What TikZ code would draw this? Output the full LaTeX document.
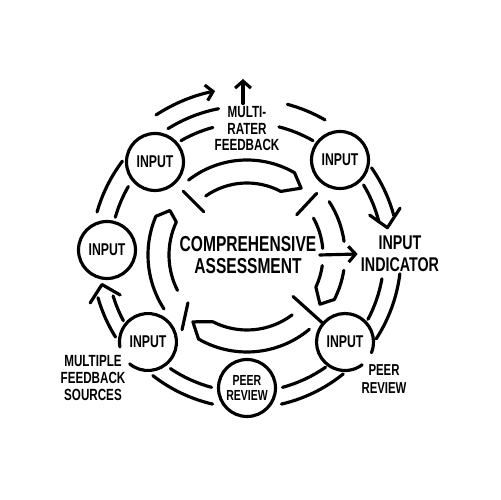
\documentclass[tikz,border=0pt]{standalone}
\usepackage{fontspec}
\setmainfont{Liberation Sans}[FakeStretch=0.72]
\usetikzlibrary{arrows.meta}

\begin{document}
\begin{tikzpicture}[scale=0.02, line width=1.8pt, line cap=round, line join=round,
	>={Straight Barb[length=4pt,width=9pt]},
	inp/.style={circle, draw, minimum size=1.14cm, inner sep=0pt, outer sep=0pt, align=center, font=\bfseries\fontsize{9.7}{10}\selectfont},
	opennode/.style={inp, draw=none},
	lbl/.style={align=center, inner sep=1pt, font=\bfseries\fontsize{9.2}{9.4}\selectfont}]
	\useasboundingbox (-247,-245) rectangle (253,255);
	\node[inp] (tl) at (-92,93) {INPUT};
	\node[inp] (tr) at (93,95) {INPUT};
	\node[inp] (lf) at (-140,5) {INPUT};
	\node[opennode] (bl) at (-99,-87) {INPUT};
	\node[opennode] (br) at (98,-87) {INPUT};
	\node[inp, font=\bfseries\fontsize{8.3}{8.6}\selectfont] (bt) at (0,-133) {PEER\\REVIEW};
	\draw (bl.230) arc(230:550:28.5);
	\draw (br.-22) arc(-22:307:28.5);
	\node[lbl] (mrf) at (0,126) {MULTI-\\RATER\\FEEDBACK};
	\node[lbl, font=\bfseries\fontsize{12.3}{13}\selectfont] (comp) at (1,0) {COMPREHENSIVE\\ASSESSMENT};
	\node[lbl, font=\bfseries\fontsize{11.3}{12.5}\selectfont] (ind) at (153,1) {INPUT\\INDICATOR};
	\node[lbl, font=\bfseries\fontsize{9.2}{9.7}\selectfont] (mfs) at (-154,-123) {MULTIPLE\\FEEDBACK\\SOURCES};
	\node[lbl, font=\bfseries\fontsize{9}{10}\selectfont] (pr) at (137,-124) {PEER\\REVIEW};
	\coordinate (up) at (-4,176);
	\draw[->] (mrf.north -| up) -- (up);
	\draw[->] (comp.east) -- (ind.west);
	% outer rings
	\draw[->] (123:167) arc(123:101:167);
	\draw (122:149) arc(122:101:149);
	\draw (120:132) arc(120:105:132);
	\draw (75:156) arc(75:60:156);
	\draw (76:132) arc(76:60:132);
	\draw (35:152) arc(35:15:152);
	\draw (31:136) arc(31:14:136);
	\draw (18:129) -- (11:143) -- (17:160);
	\draw (-7:154) arc(-7:-33:154);
	\draw (-10:137) arc(-10:-28:137);
	\draw (-51:153) arc(-51:-77:153);
	\draw (-55:137) arc(-55:-75:137);
	\draw (-103:153) arc(-103:-128:153);
	\draw (-105:137) arc(-105:-124:137);
	\draw (212:155) arc(212:196:155);
	\draw (208:140) arc(208:197:140);
	\draw (197:164) -- (191.5:148) -- (197.5:133);
	\draw (164:156) arc(164:143:156);
	\draw (164:137) arc(164:150:137);
	% inner arrows
	\draw (128:95) arc(128:60:95) -- (51:86) -- (62:72) arc(62:125:72);
	\draw (33:98) arc(33:8:98);
	\draw (29:76) arc(29:5:76);
	\draw (-9:98) arc(-9:-27:98) -- (-34:88) -- (-25:76) arc(-25:-8:76);
	\draw (-50:97) arc(-50:-120:97) -- (-129:86) -- (-117:75) arc(-117:-53:75);
	\draw (213:99) arc(213:157:99) -- (150:89) -- (155:78) arc(155:207:78);
	\draw (135:90) -- (135:61);
	\draw (41.5:93) -- (39:64);
	\draw (229:99) -- (219:76);
	\draw (-42:62) -- (-42:101);
\end{tikzpicture}
\end{document}
